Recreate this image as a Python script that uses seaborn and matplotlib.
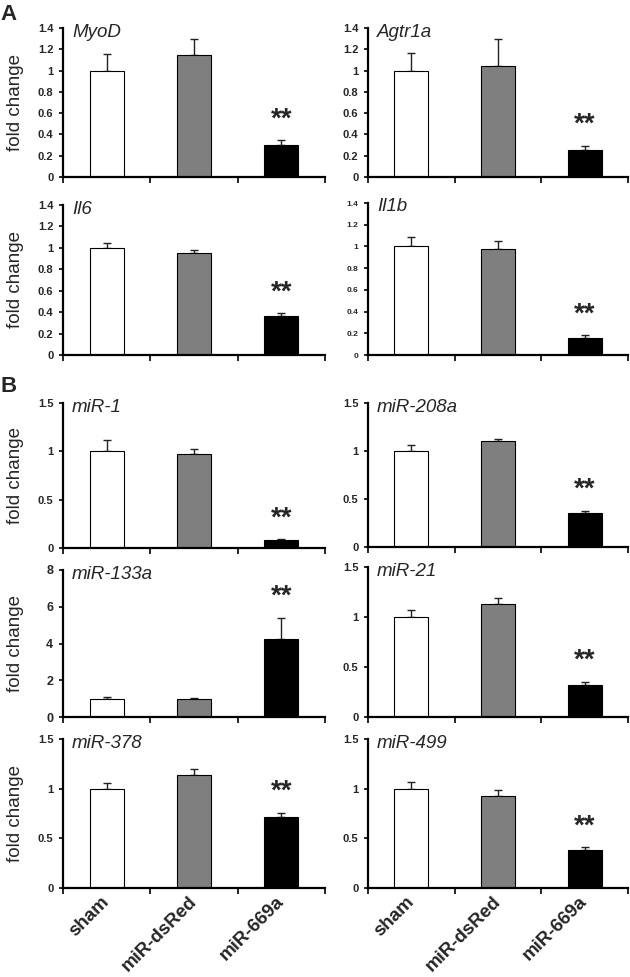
import matplotlib
matplotlib.use("Agg")
import matplotlib.pyplot as plt
import seaborn as sns
import pandas as pd
import numpy as np

# ---------------- data ----------------
groups = ["sham", "miR-dsRed", "miR-669a"]
bar_colors = ["#ffffff", "#7f7f7f", "#000000"]

myod = [1.00, 1.15, 0.30]
myod_err = [0.155, 0.145, 0.045]
agtr1a = [1.00, 1.04, 0.25]
agtr1a_err = [0.165, 0.26, 0.045]
il6 = [1.00, 0.95, 0.36]
il6_err = [0.045, 0.03, 0.03]
il1b = [1.00, 0.98, 0.16]
il1b_err = [0.09, 0.07, 0.02]
mir1 = [1.00, 0.97, 0.08]
mir1_err = [0.12, 0.05, 0.01]
mir208a = [1.00, 1.10, 0.35]
mir208a_err = [0.06, 0.025, 0.03]
mir133a = [1.00, 1.00, 4.27]
mir133a_err = [0.07, 0.06, 1.13]
mir21 = [1.00, 1.13, 0.32]
mir21_err = [0.07, 0.06, 0.035]
mir378 = [1.00, 1.14, 0.71]
mir378_err = [0.06, 0.06, 0.05]
mir499 = [1.00, 0.93, 0.38]
mir499_err = [0.07, 0.06, 0.03]

yticks_a = [0, 0.2, 0.4, 0.6, 0.8, 1.0, 1.2, 1.4]
ylabels_a = ["0", "0.2", "0.4", "0.6", "0.8", "1", "1.2", "1.4"]
yticks_b = [0, 0.5, 1.0, 1.5]
ylabels_b = ["0", "0.5", "1", "1.5"]
yticks_133 = [0, 2, 4, 6, 8]
ylabels_133 = ["0", "2", "4", "6", "8"]

# ---------------- style ----------------
sns.set_style("white")
plt.rcParams["font.family"] = ["Liberation Sans", "DejaVu Sans"]

W, H = 630, 977
fig = plt.figure(figsize=(W / 100, H / 100), dpi=100)


def rect(x0, ytop, x1, ybot):
    return [x0 / W, 1 - ybot / H, (x1 - x0) / W, (ybot - ytop) / H]


LX = (63, 325)
RX = (368, 628)

panels = [
    # name, vals, errs, yticks, ylabels, rect, left?, bottom?, ticksize
    ("MyoD", myod, myod_err, yticks_a, ylabels_a, rect(LX[0], 28, LX[1], 177), True, False, 8),
    ("Agtr1a", agtr1a, agtr1a_err, yticks_a, ylabels_a, rect(RX[0], 28, RX[1], 177), False, False, 8),
    ("Il6", il6, il6_err, yticks_a, ylabels_a, rect(LX[0], 205, LX[1], 355), True, False, 8),
    ("Il1b", il1b, il1b_err, yticks_a, ylabels_a, rect(RX[0], 203, RX[1], 355), False, False, 6),
    ("miR-1", mir1, mir1_err, yticks_b, ylabels_b, rect(LX[0], 403, LX[1], 548), True, False, 8),
    ("miR-208a", mir208a, mir208a_err, yticks_b, ylabels_b, rect(RX[0], 403, RX[1], 547), False, False, 8),
    ("miR-133a", mir133a, mir133a_err, yticks_133, ylabels_133, rect(LX[0], 570, LX[1], 717), True, False, 9),
    ("miR-21", mir21, mir21_err, yticks_b, ylabels_b, rect(RX[0], 567, RX[1], 717), False, False, 8),
    ("miR-378", mir378, mir378_err, yticks_b, ylabels_b, rect(LX[0], 739, LX[1], 888), True, True, 8),
    ("miR-499", mir499, mir499_err, yticks_b, ylabels_b, rect(RX[0], 739, RX[1], 888), False, True, 8),
]

for name, vals, errs, yt, yl, r, is_left, is_bottom, tsize in panels:
    ax = fig.add_axes(r)
    df = pd.DataFrame({"group": groups, "value": vals})
    sns.barplot(data=df, x="group", y="value", hue="group", order=groups,
                hue_order=groups, palette=bar_colors, saturation=1,
                legend=False, width=0.39, edgecolor="black", linewidth=0.8,
                ax=ax, zorder=2)
    pos = np.arange(len(groups))
    ax.errorbar(pos, vals, yerr=[np.zeros(len(vals)), errs], fmt="none",
                ecolor="#222222", elinewidth=1.0, capsize=3, capthick=1.0,
                zorder=1)
    top = vals[2] + errs[2]
    ax.annotate("**", xy=(2, top), xytext=(0, 15), textcoords="offset points",
                ha="center", va="center", fontsize=20, fontweight="bold")

    ax.set_xlim(-0.5, 2.5)
    ax.set_ylim(0, yt[-1])
    ax.set_yticks(yt)
    ax.set_yticklabels(yl, fontsize=tsize, fontweight="bold")
    ax.tick_params(axis="y", direction="out", length=3, width=1.2, pad=4,
                   left=True, color="black")

    ax.set_xticks([-0.5, 0.5, 1.5, 2.5])
    ax.set_xticklabels([])
    ax.tick_params(axis="x", which="major", direction="out", length=4,
                   width=1.2, bottom=True, color="black")
    if is_bottom:
        ax.set_xticks(pos, minor=True)
        ax.set_xticklabels(groups, minor=True, rotation=45, ha="right",
                           va="center", rotation_mode="anchor",
                           fontsize=13.5, fontweight="bold")
        ax.tick_params(axis="x", which="minor", length=0, pad=8)
    ax.set_xlabel("")

    for s in ["top", "right"]:
        ax.spines[s].set_visible(False)
    for s in ["left", "bottom"]:
        ax.spines[s].set_linewidth(1.6)
        ax.spines[s].set_color("black")

    if is_left:
        ax.set_ylabel("fold change", fontsize=13.5)
        ax.yaxis.set_label_coords(-0.15, 0.5)
    else:
        ax.set_ylabel("")

    ax.text(0.035, 1.03, name, transform=ax.transAxes, ha="left", va="top",
            fontsize=13.5, fontstyle="italic")

fig.text(0.0, 1 - 4 / H, "A", ha="left", va="top", fontsize=16, fontweight="bold")
fig.text(0.0, 1 - 376 / H, "B", ha="left", va="top", fontsize=16, fontweight="bold")

fig.savefig("out.png", dpi=100)
